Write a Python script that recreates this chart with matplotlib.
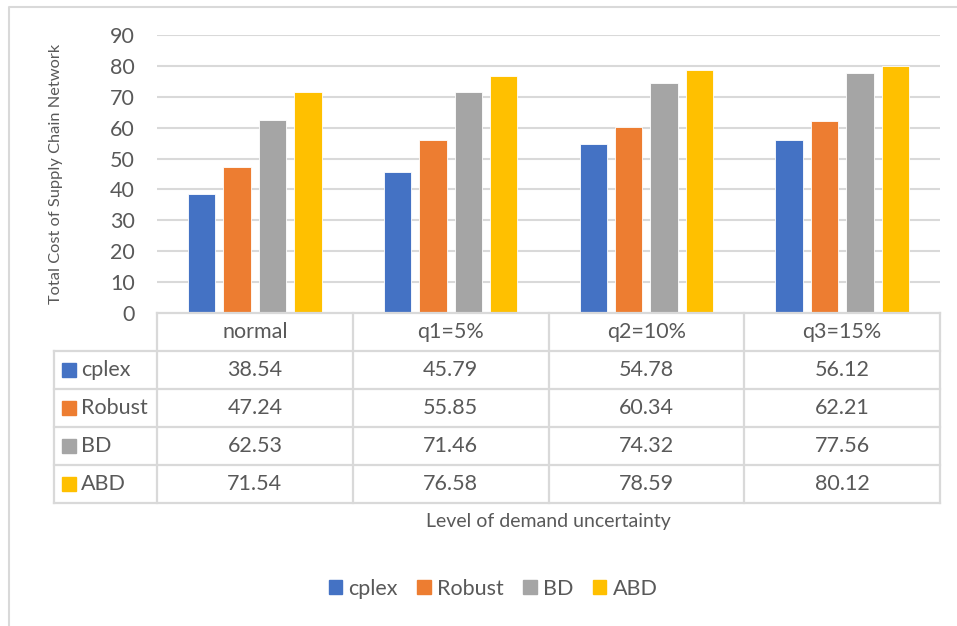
import matplotlib
matplotlib.use("Agg")
import matplotlib.pyplot as plt
from matplotlib.patches import Rectangle
import numpy as np

categories = ["normal", "q1=5%", "q2=10%", "q3=15%"]
series_names = ["cplex", "Robust", "BD", "ABD"]
cplex = [38.54, 45.79, 54.78, 56.12]
robust = [47.24, 55.85, 60.34, 62.21]
bd = [62.53, 71.46, 74.32, 77.56]
abd = [71.54, 76.58, 78.59, 80.12]
yticks = [0, 10, 20, 30, 40, 50, 60, 70, 80, 90]
ylabel = "Total Cost of Supply Chain Network"
xlabel = "Level of demand uncertainty"

series = [cplex, robust, bd, abd]
colors = ["#4472C4", "#ED7D31", "#A5A5A5", "#FFC000"]
text_color = "#595959"
grid_color = "#D9D9D9"
FONT = "Lato"
FS = 15.5
plt.rcParams["font.family"] = [FONT, "DejaVu Sans"]

W, H = 957, 626
fig = plt.figure(figsize=(W / 100, H / 100), dpi=100)

def px_rect(x0, y0, x1, y1):
    return [x0 / W, 1 - y1 / H, (x1 - x0) / W, (y1 - y0) / H]

# outer chart frame
frame = fig.add_axes([0, 0, 1, 1])
frame.set_xlim(0, W)
frame.set_ylim(H, 0)
frame.axis("off")
frame.plot([8.5, 8.5, W + 5], [H + 5, 6.5, 6.5], color=grid_color, lw=1.5, clip_on=False)

# main plot area
ax = fig.add_axes(px_rect(157, 35, 940, 313))
x = np.arange(len(categories))
step = 0.181
width = 0.14
for i, (vals, c) in enumerate(zip(series, colors)):
    ax.bar(x + (i - 1.5) * step, vals, width=width, color=c, edgecolor="white",
           linewidth=0.6, zorder=3, label=series_names[i])
ax.set_xlim(-0.5, len(categories) - 0.5)
ax.set_ylim(0, 90)
ax.set_yticks(yticks)
ax.set_yticklabels([str(t) for t in yticks], fontsize=FS, color=text_color)
ax.tick_params(axis="y", length=0, pad=16)
ax.set_xticks([])
for s in ax.spines.values():
    s.set_visible(False)
for t in yticks[1:]:
    ax.axhline(t, color=grid_color, lw=1.5, zorder=1)
ax.set_ylabel(ylabel, fontsize=11.8, color=text_color)
ax.yaxis.set_label_coords(-(157 - 63) / (940 - 157), 0.5)

# data table
cat_px = (940 - 157) / len(categories)
left_units = (157 - 54) / cat_px
tax = fig.add_axes(px_rect(54, 313, 940, 503))
tax.set_xlim(-0.5 - left_units, len(categories) - 0.5)
tax.set_ylim(5, 0)
tax.axis("off")
lc = dict(color=grid_color, lw=1.6, clip_on=False, solid_capstyle="projecting")
xl = -0.5 - left_units
xr = len(categories) - 0.5
# horizontal lines
tax.plot([-0.5, xr], [0, 0], **lc)
for r in range(1, 6):
    tax.plot([xl, xr], [r, r], **lc)
# vertical lines
for k in range(len(categories) + 1):
    tax.plot([k - 0.5, k - 0.5], [0, 5], **lc)
tax.plot([xl, xl], [1, 5], **lc)
# header
for k, cat in enumerate(categories):
    tax.text(k, 0.5, cat, ha="center", va="center", fontsize=FS, color=text_color)
# rows
sq_w = 14 / cat_px
for r, (name, vals, c) in enumerate(zip(series_names, series, colors)):
    yc = r + 1.5
    tax.add_patch(Rectangle((xl + 8 / cat_px, yc - 0.18), sq_w, 0.36, color=c, clip_on=False))
    tax.text(xl + 27 / cat_px, yc, name, ha="left", va="center", fontsize=FS, color=text_color)
    for k, v in enumerate(vals):
        tax.text(k, yc, f"{v:.2f}", ha="center", va="center", fontsize=FS, color=text_color)

fig.text(548 / W, 1 - 521 / H, xlabel, ha="center", va="center", fontsize=14, color=text_color)

handles = [Rectangle((0, 0), 1, 1, color=c) for c in colors]
fig.legend(handles, series_names, loc="center", bbox_to_anchor=(493 / W, 1 - 589 / H),
           ncol=4, frameon=False, fontsize=FS, labelcolor=text_color,
           handlelength=0.62, handleheight=0.62, handletextpad=0.3, columnspacing=0.9)

fig.savefig("out.png", dpi=100)
